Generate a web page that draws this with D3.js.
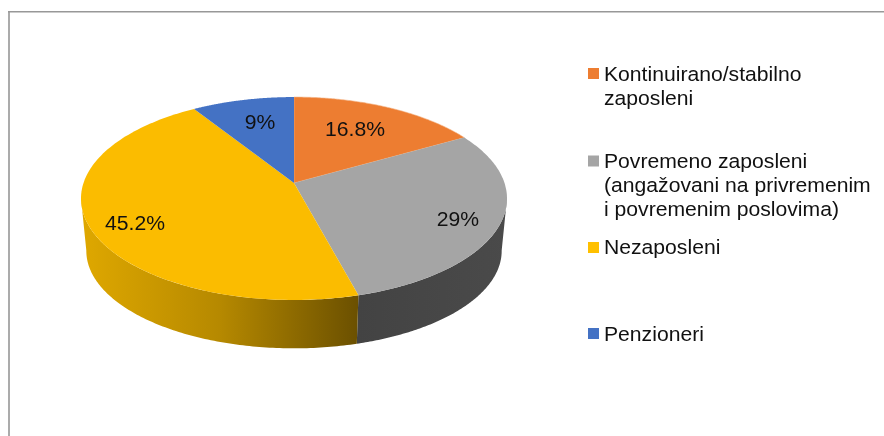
<!DOCTYPE html>
<html><head><meta charset="utf-8">
<script src="https://cdnjs.cloudflare.com/ajax/libs/d3/7.8.5/d3.min.js"></script>
<style>html,body{margin:0;padding:0;background:#fff}svg{display:block;filter:blur(0.35px)}text{font-family:"Liberation Sans",Arial,sans-serif;fill:#111}</style>
</head><body><svg id="c" width="884" height="436"></svg>
<script>
const categories = ["Kontinuirano/stabilno zaposleni","Povremeno zaposleni (angažovani na privremenim i povremenim poslovima)","Nezaposleni","Penzioneri"];
const values = [16.8,29,45.2,9];
const valueLabels = ["16.8%","29%","45.2%","9%"];
const colors = ["#ED7D31","#A5A5A5","#FBBC00","#4472C4"];
const legendColors = ["#ED7D31","#A5A5A5","#FFC000","#4472C4"];
const legendLines = [["Kontinuirano/stabilno","zaposleni"],["Povremeno zaposleni","(angažovani na privremenim","i povremenim poslovima)"],["Nezaposleni"],["Penzioneri"]];

const svg = d3.select("#c");
const cx=294, cy=183, a=210.5, b=99.1, k=0.153, bottomX=0.975, bottomY=0.96, bottomShift=53;
const project = t=>{const u=Math.sin(t), v=-Math.cos(t), w=1-k*v; return [cx+a*u/w, cy+b*v/w];};
const lower = p=>[cx+(p[0]-cx)*bottomX, cy+(p[1]-cy)*bottomY+bottomShift];
const arcs = d3.pie().sort(null).value(d=>d)(values);
const line = d3.line();
const samples=(s,e)=>d3.range(0,121).map(i=>s+(e-s)*i/120);

const defs=svg.append("defs");
const gy=defs.append("linearGradient").attr("id","gy").attr("gradientUnits","userSpaceOnUse").attr("x1",81).attr("x2",358).attr("y1",0).attr("y2",0);
gy.append("stop").attr("offset",0).attr("stop-color","#DFA800");
gy.append("stop").attr("offset",0.5).attr("stop-color","#B68900");
gy.append("stop").attr("offset",1).attr("stop-color","#6B5000");
const gg=defs.append("linearGradient").attr("id","gg").attr("gradientUnits","userSpaceOnUse").attr("x1",358).attr("x2",507).attr("y1",0).attr("y2",0);
gg.append("stop").attr("offset",0).attr("stop-color","#434343");
gg.append("stop").attr("offset",1).attr("stop-color","#4A4A4A");

// outer frame
svg.append("path").attr("d","M9,436V11").attr("fill","none").attr("stroke","#ABABAB").attr("stroke-width",2);
svg.append("path").attr("d","M8,11.8H884").attr("fill","none").attr("stroke","#989898").attr("stroke-width",1.5);

// side walls: visible front part, clipped at the ellipse's widest points
const wallFill=[null,"url(#gg)","url(#gy)",null];
const widest=0.15;
arcs.forEach((d,i)=>{
  if(!wallFill[i])return;
  const s=Math.max(d.startAngle,Math.PI/2+widest), e=Math.min(d.endAngle,3*Math.PI/2-widest);
  const top=samples(s,e).map(project);
  const bot=top.slice().reverse().map(lower);
  svg.append("path").attr("d",line(top.concat(bot))+"Z").attr("fill",wallFill[i]);
});

// top faces
arcs.forEach((d,i)=>{
  const pts=[[cx,cy]].concat(samples(d.startAngle,d.endAngle).map(project));
  svg.append("path").attr("d",line(pts)+"Z").attr("fill",colors[i]).attr("stroke",i===0?"#F4B183":"none").attr("stroke-width",0.6);
});

// text is drawn a little wider than the font's natural width, as in the reference
const widen=(x,y,s,size,anchor)=>svg.append("text")
  .attr("transform",`translate(${x},${y}) scale(1.085,1)`)
  .attr("text-anchor",anchor).attr("font-size",size).text(s);

// value labels
const labelPos=[[355,135.5],[458,225.5],[135,229.5],[260,128.5]];
valueLabels.forEach((t,i)=>widen(labelPos[i][0],labelPos[i][1],t,19.5,"middle"));

// legend
const squareTop=[68,155.5,242,328], textBase=[81,167.5,253.5,341], lh=24.2;
legendLines.forEach((ls,i)=>{
  svg.append("rect").attr("x",588).attr("y",squareTop[i]).attr("width",11).attr("height",11).attr("fill",legendColors[i]);
  ls.forEach((s,j)=>widen(604,textBase[i]+j*lh,s,19.5,"start"));
});
</script></body></html>
